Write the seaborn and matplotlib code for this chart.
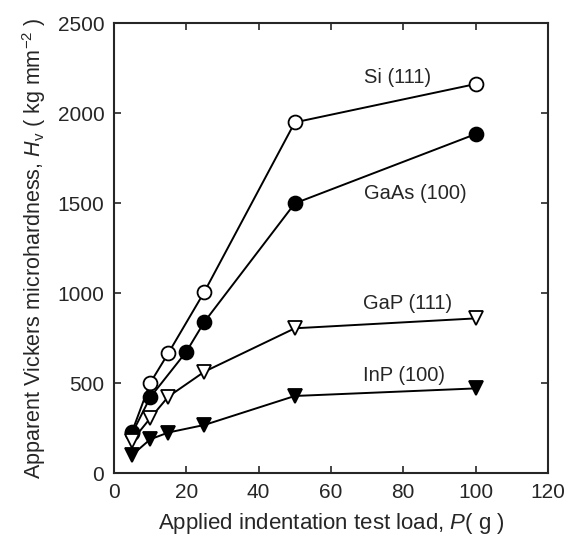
import matplotlib
matplotlib.use("Agg")
import matplotlib.pyplot as plt
import pandas as pd
import seaborn as sns

# applied load (g) and apparent microhardness (kg mm^-2)
load = [5, 10, 15, 20, 25, 50, 100]
si_111 = [230, 500, 665, None, 1007, 1948, 2161]
gaas_100 = [220, 420, None, 674, 840, 1498, 1883]
gap_111 = [180, 304, 424, None, 563, 804, 859]
inp_100 = [100, 187, 225, None, 267, 428, 470]

series = {
    "Si (111)": si_111,
    "GaAs (100)": gaas_100,
    "GaP (111)": gap_111,
    "InP (100)": inp_100,
}
rows = []
for name, vals in series.items():
    for x, y in zip(load, vals):
        if y is not None:
            rows.append({"load": x, "hv": y, "sample": name})
df = pd.DataFrame(rows)

sns.set_style("ticks")
plt.rcParams["font.family"] = ["Liberation Sans", "DejaVu Sans"]
plt.rcParams["mathtext.fontset"] = "custom"
plt.rcParams["mathtext.rm"] = "Liberation Sans"
plt.rcParams["mathtext.it"] = "Liberation Sans:italic"

fig = plt.figure(figsize=(5.65, 5.38), dpi=100)
ax = fig.add_axes([0.2018, 0.1208, 0.768, 0.8364])

# marker, face colour per series
styles = {
    "Si (111)": ("o", "white"),
    "GaAs (100)": ("o", "black"),
    "GaP (111)": ("v", "white"),
    "InP (100)": ("v", "black"),
}
for name, (mk, face) in styles.items():
    sub = df[df["sample"] == name]
    sns.lineplot(data=sub, x="load", y="hv", ax=ax, color="black",
                 linewidth=1.4, marker=mk, markersize=10,
                 markerfacecolor=face, markeredgecolor="black",
                 markeredgewidth=1.3, legend=False)

# curve labels
ax.text(78.5, 2200, "Si (111)", ha="center", va="center", fontsize=14.5)
ax.text(83.2, 1555, "GaAs (100)", ha="center", va="center", fontsize=14.5)
ax.text(81.3, 944, "GaP (111)", ha="center", va="center", fontsize=14.5)
ax.text(80.2, 544, "InP (100)", ha="center", va="center", fontsize=14.5)

ax.set_xlim(0, 120)
ax.set_ylim(0, 2500)
ax.set_xticks(range(0, 121, 20))
ax.set_yticks(range(0, 2501, 500))
ax.tick_params(direction="in", length=5, width=1.2, labelsize=15,
               top=True, right=True, pad=7)
for sp in ax.spines.values():
    sp.set_linewidth(1.5)

ax.set_xlabel(r"Applied indentation test load, $P$( g )", fontsize=16, labelpad=7)
ax.set_ylabel(r"Apparent Vickers microhardness, $H_\mathrm{v}$ ( kg mm$^{-2}$ )",
              fontsize=15.5, labelpad=7)

fig.savefig("out.png", dpi=100)
